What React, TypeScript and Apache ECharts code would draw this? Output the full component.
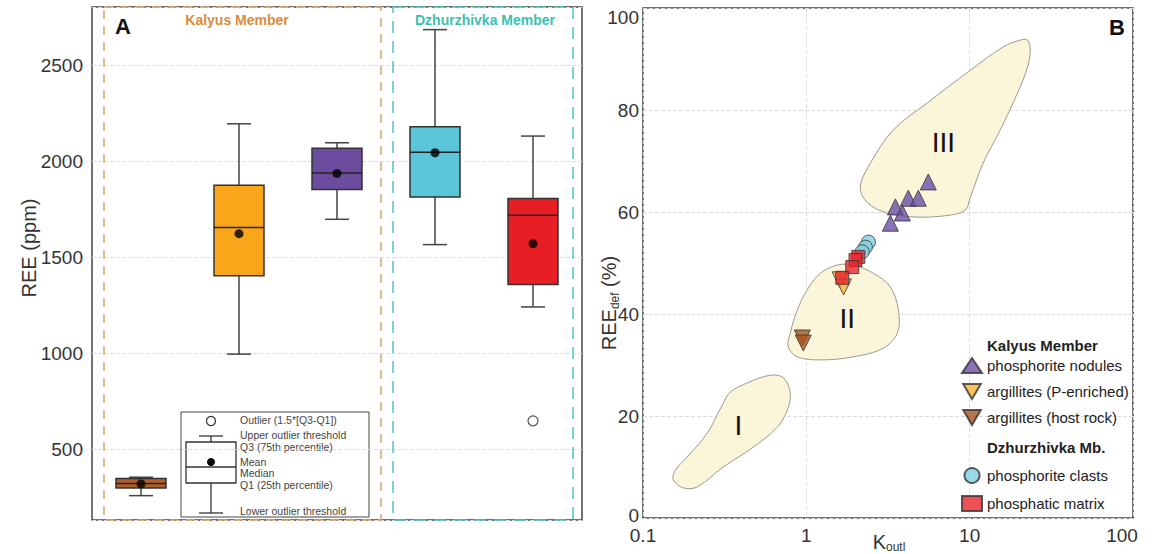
import React, { useEffect, useRef } from "react";
import * as echarts from "echarts";

// ---------- Panel A: box plots ----------
const BOX_CATS = [
  "argillites (host rock)",
  "argillites (P-enriched)",
  "phosphorite nodules",
  "phosphorite clasts",
  "phosphatic matrix",
];
const BOX_MIN = [257, 995, 1698, 1566, 1241];
const BOX_Q1 = [297, 1403, 1854, 1814, 1358];
const BOX_MEDIAN = [320, 1655, 1939, 2047, 1719];
const BOX_Q3 = [347, 1875, 2069, 2181, 1806];
const BOX_MAX = [353, 2196, 2097, 2687, 2132];
const BOX_MEAN = [318, 1623, 1937, 2045, 1571];
const OUTLIER_CAT = [4];
const OUTLIER_VAL = [647];
const BOX_COLORS = ["#b05f28", "#f9a61a", "#6b4c9f", "#5bc5da", "#e81e25"];

// ---------- Panel B: scatter ----------
const NODULES_K = [5.58, 4.21, 4.85, 3.51, 3.87, 3.27];
const NODULES_R = [65.9, 62.7, 62.7, 61.0, 59.8, 57.8];
const HOST_K = [0.945, 0.958];
const HOST_R = [35.3, 34.3];
const PENR_K = [1.61, 1.69];
const PENR_R = [46.7, 45.3];
const CLASTS_K = [2.4, 2.3, 2.2];
const CLASTS_R = [54.1, 53.1, 52.2];
const MATRIX_K = [2.08, 2.0, 1.91, 1.66];
const MATRIX_R = [51.2, 50.6, 49.2, 47.1];

const FIELD_NAMES = ["I", "II", "III"];
const FIELD_LABEL_K = [0.384, 1.78, 6.9];
const FIELD_LABEL_R = [18.2, 39.2, 73.7];
const FIELD_I = [
  [0.158, 9.4], [0.153, 7.5], [0.177, 5.9], [0.215, 6.1], [0.31, 10.0], [0.474, 13.9],
  [0.664, 17.8], [0.765, 21.2], [0.798, 24.5], [0.723, 27.5], [0.602, 28.0], [0.436, 26.5],
  [0.343, 24.7], [0.306, 22.2], [0.248, 16.7], [0.187, 12.0],
];
const FIELD_II = [
  [0.798, 36.3], [0.776, 33.5], [0.881, 31.6], [1.22, 31.0], [1.94, 31.6], [2.96, 33.3],
  [3.61, 36.3], [3.66, 40.8], [3.27, 45.3], [2.57, 48.0], [1.94, 49.6], [1.55, 49.6],
  [1.22, 48.0], [1.01, 44.7], [0.881, 40.8],
];
const FIELD_III = [
  [22.6, 93.7], [23.5, 91.8], [22.6, 88.4], [19.6, 83.3], [15.4, 76.1], [12.1, 69.6],
  [10.1, 62.9], [9.42, 60.4], [7.62, 59.4], [4.79, 59.0], [3.13, 59.8], [2.37, 61.8],
  [2.14, 64.9], [2.47, 69.6], [3.41, 76.1], [5.51, 81.4], [10.1, 87.8], [16.1, 92.4],
  [20.4, 93.7],
];
const FIELDS = [FIELD_I, FIELD_II, FIELD_III];

const X_TICKS_B = [0.1, 1, 10, 100];

const FONT = "'Liberation Sans', Arial, Helvetica, sans-serif";
const DOWN_TRIANGLE = "path://M0,0L20,0L10,17Z";

const zip = (a: number[], b: number[]) => a.map((v, i) => [v, b[i]]);

export default function App() {
  const ref = useRef<HTMLDivElement>(null);

  useEffect(() => {
    if (!ref.current) return;
    const chart = echarts.init(ref.current, undefined, { renderer: "svg" });

    const boxData = BOX_CATS.map((_, i) => [i, BOX_MIN[i], BOX_Q1[i], BOX_MEDIAN[i], BOX_Q3[i], BOX_MAX[i]]);

    const markerBorder = { borderColor: "#333", borderWidth: 1 };

    const legendTexts = [
      ["Outlier (1.5*[Q3-Q1])", 420],
      ["Upper outlier threshold", 435],
      ["Q3 (75th percentile)", 447],
      ["Mean", 462],
      ["Median", 473],
      ["Q1 (25th percentile)", 485],
      ["Lower outlier threshold", 511],
    ];

    const option: any = {
      animation: false,
      textStyle: { fontFamily: FONT },
      grid: [
        {
          left: 92, top: 7, width: 490, height: 513, show: true, borderColor: "#444", borderWidth: 1.5,
          backgroundColor: "transparent", containLabel: false, outerBoundsMode: "none",
        },
        {
          left: 643, top: 8, width: 490, height: 510, show: true, borderColor: "#444", borderWidth: 1.5,
          backgroundColor: "transparent", containLabel: false, outerBoundsMode: "none",
        },
      ],
      xAxis: [
        {
          type: "category",
          gridIndex: 0,
          data: BOX_CATS,
          boundaryGap: true,
          axisLine: { show: false },
          axisTick: { show: false },
          axisLabel: { show: false },
          splitLine: { show: false },
        },
        {
          type: "log",
          gridIndex: 1,
          logBase: 10,
          min: 0.1,
          max: 100,
          axisLine: { show: false },
          axisTick: { show: false },
          axisLabel: {
            fontSize: 19,
            color: "#333",
            margin: 8,
            fontFamily: FONT,
            formatter: (v: number) => {
              const t = X_TICKS_B.find((x) => Math.abs(x - v) / x < 1e-6);
              if (t === undefined) return "";
              return t === 100 ? "{r|100}" : String(t);
            },
            rich: { r: { fontSize: 19, color: "#333", padding: [0, 22, 0, 0], fontFamily: FONT } },
          },
          splitLine: { show: true, lineStyle: { type: "dashed", color: "#dcdcdc" } },
        },
      ],
      yAxis: [
        {
          type: "value",
          gridIndex: 0,
          min: 130,
          max: 2805,
          splitNumber: 5,
          axisLine: { show: false },
          axisTick: { show: false },
          axisLabel: {
            fontSize: 19,
            color: "#333",
            margin: 9,
            fontFamily: FONT,
            showMinLabel: false,
            showMaxLabel: false,
            formatter: (v: number) => (v % 500 === 0 ? String(v) : ""),
          },
          splitLine: { show: true, lineStyle: { type: "dashed", color: "#dcdcdc" } },
        },
        {
          type: "value",
          gridIndex: 1,
          min: 0,
          max: 100,
          interval: 20,
          axisLine: { show: false },
          axisTick: { show: false },
          axisLabel: {
            fontSize: 19,
            color: "#333",
            margin: 4,
            fontFamily: FONT,
            formatter: (v: number) => (v === 100 ? "{t|100}" : v === 0 ? "{b|0}" : String(v)),
            rich: {
              t: { fontSize: 19, color: "#333", padding: [18, 0, 0, 0], fontFamily: FONT },
              b: { fontSize: 19, color: "#333", padding: [0, 0, 6, 0], fontFamily: FONT },
            },
          },
          splitLine: { show: true, lineStyle: { type: "dashed", color: "#dcdcdc" } },
        },
      ],
      legend: [
        {
          left: 961,
          top: 357,
          orient: "vertical",
          padding: 0,
          itemWidth: 20,
          itemHeight: 15,
          itemGap: 9,
          textStyle: { fontSize: 15, color: "#222", fontFamily: FONT },
          data: [
            { name: "phosphorite nodules", icon: "triangle" },
            { name: "argillites (P-enriched)", icon: DOWN_TRIANGLE },
            { name: "argillites (host rock)", icon: DOWN_TRIANGLE },
          ],
        },
        {
          left: 961,
          top: 467,
          orient: "vertical",
          padding: 0,
          itemWidth: 20,
          itemHeight: 15,
          itemGap: 11,
          textStyle: { fontSize: 15, color: "#222", fontFamily: FONT },
          data: [
            { name: "phosphorite clasts", icon: "circle" },
            { name: "phosphatic matrix", icon: "rect" },
          ],
        },
      ],
      graphic: [
        // dashed member frames in panel A
        {
          type: "rect",
          z: 1,
          shape: { x: 104, y: 7, width: 277, height: 513 },
          style: { fill: "none", stroke: "#dba66c", lineWidth: 1.5, lineDash: [9, 7] },
          silent: true,
        },
        {
          type: "rect",
          z: 1,
          shape: { x: 393, y: 7, width: 180, height: 513 },
          style: { fill: "none", stroke: "#4fc6bd", lineWidth: 1.5, lineDash: [12, 8] },
          silent: true,
        },
        {
          type: "text",
          z: 10,
          x: 123,
          y: 26,
          style: { text: "A", fontSize: 22, fontWeight: "bold", fill: "#111", align: "center", verticalAlign: "middle", fontFamily: FONT },
        },
        {
          type: "text",
          z: 10,
          x: 237,
          y: 20,
          style: { text: "Kalyus Member", fontSize: 14, fontWeight: "bold", fill: "#d98c3f", align: "center", verticalAlign: "middle", fontFamily: FONT },
        },
        {
          type: "text",
          z: 10,
          x: 485,
          y: 20,
          style: { text: "Dzhurzhivka Member", fontSize: 14, fontWeight: "bold", fill: "#3dbfb0", align: "center", verticalAlign: "middle", fontFamily: FONT },
        },
        {
          type: "text",
          z: 10,
          x: 1117,
          y: 27,
          style: { text: "B", fontSize: 22, fontWeight: "bold", fill: "#111", align: "center", verticalAlign: "middle", fontFamily: FONT },
        },
        {
          type: "text",
          z: 10,
          x: 29,
          y: 248,
          rotation: Math.PI / 2,
          style: { text: "REE (ppm)", fontSize: 20, fill: "#333", align: "center", verticalAlign: "middle", fontFamily: FONT },
        },
        {
          type: "text",
          z: 10,
          x: 609,
          y: 303,
          rotation: Math.PI / 2,
          style: {
            text: "{a|REE}{s|def}{a| (%)}",
            align: "center",
            verticalAlign: "middle",
            rich: {
              a: { fontSize: 20, fill: "#333", lineHeight: 24, fontFamily: FONT },
              s: { fontSize: 12, fill: "#333", lineHeight: 12, verticalAlign: "bottom", fontFamily: FONT },
            },
          },
        },
        {
          type: "text",
          z: 10,
          x: 889,
          y: 531,
          style: {
            text: "{k|K}{s|outl}",
            align: "center",
            verticalAlign: "top",
            rich: {
              k: { fontSize: 20, fill: "#333", lineHeight: 22, fontFamily: FONT },
              s: { fontSize: 12, fill: "#333", lineHeight: 12, verticalAlign: "bottom", fontFamily: FONT },
            },
          },
        },
        // legend headers panel B
        {
          type: "text",
          z: 10,
          x: 987,
          y: 345,
          style: { text: "Kalyus Member", fontSize: 15, fontWeight: "bold", fill: "#222", align: "left", verticalAlign: "middle", fontFamily: FONT },
        },
        {
          type: "text",
          z: 10,
          x: 987,
          y: 447,
          style: { text: "Dzhurzhivka Mb.", fontSize: 15, fontWeight: "bold", fill: "#222", align: "left", verticalAlign: "middle", fontFamily: FONT },
        },
        // key box in panel A
        {
          type: "group",
          z: 10,
          children: [
            { type: "rect", shape: { x: 181, y: 412, width: 188, height: 105 }, style: { fill: "none", stroke: "#444", lineWidth: 1 } },
            { type: "circle", shape: { cx: 211, cy: 421, r: 4.5 }, style: { fill: "#fff", stroke: "#333", lineWidth: 1.2 } },
            { type: "line", shape: { x1: 199, y1: 436, x2: 223, y2: 436 }, style: { stroke: "#333", lineWidth: 1.3 } },
            { type: "line", shape: { x1: 211, y1: 436, x2: 211, y2: 442 }, style: { stroke: "#333", lineWidth: 1.3 } },
            { type: "rect", shape: { x: 186, y: 442, width: 50, height: 41 }, style: { fill: "#fff", stroke: "#333", lineWidth: 1.3 } },
            { type: "line", shape: { x1: 186, y1: 467, x2: 236, y2: 467 }, style: { stroke: "#333", lineWidth: 1.3 } },
            { type: "circle", shape: { cx: 211, cy: 462, r: 4 }, style: { fill: "#000" } },
            { type: "line", shape: { x1: 211, y1: 483, x2: 211, y2: 513 }, style: { stroke: "#333", lineWidth: 1.3 } },
            { type: "line", shape: { x1: 199, y1: 513, x2: 223, y2: 513 }, style: { stroke: "#333", lineWidth: 1.3 } },
            ...legendTexts.map(([t, y]) => ({
              type: "text",
              x: 240,
              y: y as number,
              style: { text: t as string, fontSize: 10.5, fill: "#444", align: "left", verticalAlign: "middle", fontFamily: FONT },
            })),
          ],
        },
      ],
      series: [
        // ---- panel A ----
        {
          type: "custom",
          name: "box",
          xAxisIndex: 0,
          yAxisIndex: 0,
          data: boxData,
          encode: { x: 0, y: [1, 2, 3, 4, 5] },
          z: 3,
          renderItem: (params: any, api: any) => {
            const i = params.dataIndex;
            const x = api.coord([i, BOX_MIN[i]])[0];
            const y = (v: number) => api.coord([i, v])[1];
            const yMin = y(api.value(1));
            const yQ1 = y(api.value(2));
            const yMed = y(api.value(3));
            const yQ3 = y(api.value(4));
            const yMax = y(api.value(5));
            const hw = 25;
            const cw = 12;
            const ls = { stroke: "#444", lineWidth: 1.5 };
            return {
              type: "group",
              children: [
                { type: "line", shape: { x1: x, y1: yMax, x2: x, y2: yQ3 }, style: ls },
                { type: "line", shape: { x1: x - cw, y1: yMax, x2: x + cw, y2: yMax }, style: ls },
                { type: "line", shape: { x1: x, y1: yQ1, x2: x, y2: yMin }, style: ls },
                { type: "line", shape: { x1: x - cw, y1: yMin, x2: x + cw, y2: yMin }, style: ls },
                {
                  type: "rect",
                  shape: { x: x - hw, y: yQ3, width: 2 * hw, height: yQ1 - yQ3 },
                  style: { fill: BOX_COLORS[i], stroke: "#333", lineWidth: 1.5 },
                },
                { type: "line", shape: { x1: x - hw, y1: yMed, x2: x + hw, y2: yMed }, style: { stroke: "#222", lineWidth: 1.5 } },
              ],
            };
          },
        },
        {
          type: "scatter",
          name: "mean",
          xAxisIndex: 0,
          yAxisIndex: 0,
          z: 5,
          symbol: "circle",
          symbolSize: 9,
          itemStyle: { color: "#000" },
          data: BOX_MEAN.map((v, i) => [i, v]),
        },
        {
          type: "scatter",
          name: "outlier",
          xAxisIndex: 0,
          yAxisIndex: 0,
          z: 5,
          symbol: "circle",
          symbolSize: 10,
          itemStyle: { color: "#fff", borderColor: "#333", borderWidth: 1.3 },
          data: OUTLIER_VAL.map((v, i) => [OUTLIER_CAT[i], v]),
        },
        // ---- panel B ----
        {
          type: "custom",
          name: "fields",
          xAxisIndex: 1,
          yAxisIndex: 1,
          z: 1,
          data: FIELD_NAMES.map((n, i) => [FIELD_LABEL_K[i], FIELD_LABEL_R[i]]),
          encode: { x: 0, y: 1 },
          renderItem: (params: any, api: any) => {
            const i = params.dataIndex;
            const pts = FIELDS[i].map((p) => api.coord(p));
            const lp = api.coord([api.value(0), api.value(1)]);
            return {
              type: "group",
              children: [
                {
                  type: "polygon",
                  shape: { points: pts, smooth: 0.35 },
                  style: { fill: "#fbf5da", stroke: "#9a9a90", lineWidth: 1 },
                },
                {
                  type: "text",
                  x: lp[0],
                  y: lp[1],
                  style: {
                    text: FIELD_NAMES[i],
                    fontSize: 28,
                    fill: "#111",
                    align: "center",
                    verticalAlign: "middle",
                    fontFamily: "'Liberation Sans Narrow', 'Liberation Sans', Arial, sans-serif",
                  },
                },
              ],
            };
          },
        },
        {
          type: "scatter",
          name: "phosphorite nodules",
          xAxisIndex: 1,
          yAxisIndex: 1,
          symbol: "triangle",
          symbolSize: 16,
          itemStyle: { color: "#6b4fa6", ...markerBorder },
          data: zip(NODULES_K, NODULES_R),
        },
        {
          type: "scatter",
          name: "argillites (host rock)",
          xAxisIndex: 1,
          yAxisIndex: 1,
          symbol: "triangle",
          symbolRotate: 180,
          symbolSize: 16,
          itemStyle: { color: "#a8551e", ...markerBorder },
          data: zip(HOST_K, HOST_R),
        },
        {
          type: "scatter",
          name: "argillites (P-enriched)",
          xAxisIndex: 1,
          yAxisIndex: 1,
          symbol: "triangle",
          symbolRotate: 180,
          symbolSize: 16,
          itemStyle: { color: "#f9b033", ...markerBorder },
          data: zip(PENR_K, PENR_R),
        },
        {
          type: "scatter",
          name: "phosphorite clasts",
          xAxisIndex: 1,
          yAxisIndex: 1,
          symbol: "circle",
          symbolSize: 14,
          itemStyle: { color: "#7fd0e0", ...markerBorder },
          data: zip(CLASTS_K, CLASTS_R),
        },
        {
          type: "scatter",
          name: "phosphatic matrix",
          xAxisIndex: 1,
          yAxisIndex: 1,
          symbol: "rect",
          symbolSize: 13,
          itemStyle: { color: "#e8262b", ...markerBorder },
          data: zip(MATRIX_K, MATRIX_R),
        },
      ],
    };

    chart.setOption(option);
    return () => chart.dispose();
  }, []);

  return (
    <div
      ref={ref}
      style={{ position: "fixed", left: 0, top: 0, width: 1152, height: 554, background: "#fff" }}
    />
  );
}
